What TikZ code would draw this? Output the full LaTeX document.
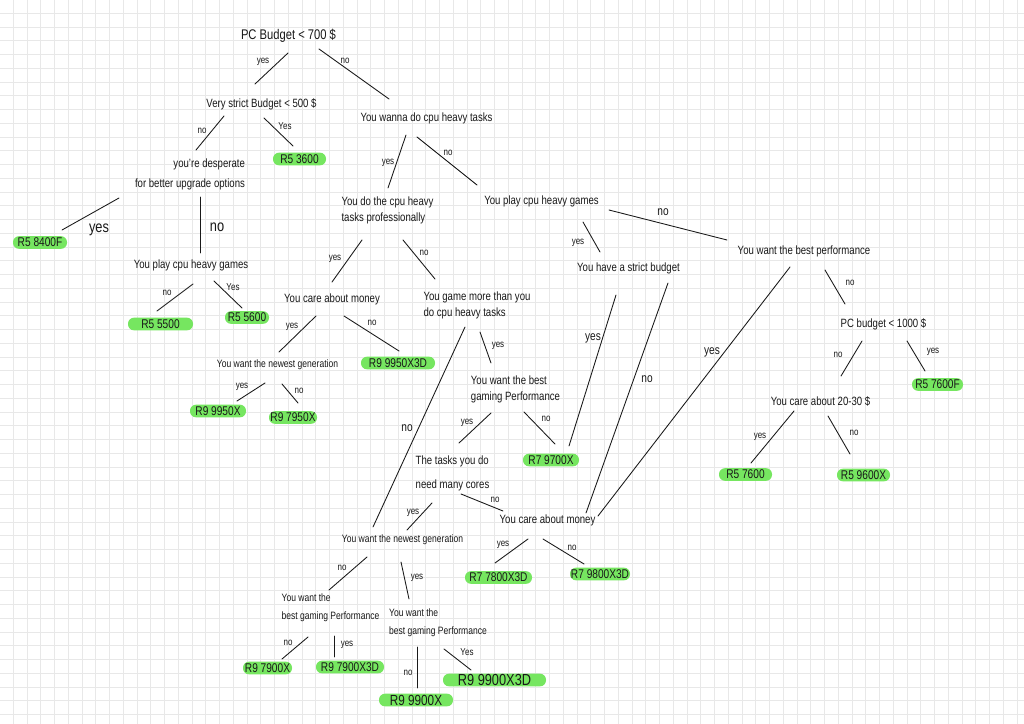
\documentclass[tikz,border=0pt]{standalone}
\usepackage{fontspec}
\setmainfont{Liberation Sans}[FakeStretch=0.8]
\usetikzlibrary{calc}
\definecolor{hl}{RGB}{118,230,96}
\definecolor{gridc}{RGB}{232,232,232}
\definecolor{ink}{RGB}{25,25,25}
\begin{document}
\begin{tikzpicture}[x=0.75pt,y=-0.75pt,
  q/.style={font=\fontsize{9}{12}\selectfont, text=ink, inner sep=0pt},
  qml/.style={q, align=left},
  res/.style={fill=hl, rounded corners=4.5pt, minimum height=9.5pt, minimum width=#1*0.75pt, inner sep=0pt, text=ink, font=\fontsize{9.5}{10}\selectfont},
  lab/.style={font=\fontsize{7.5}{8}\selectfont, text=ink, inner sep=0pt},
  labm/.style={font=\fontsize{9.5}{10}\selectfont, text=ink, inner sep=0pt},
  labb/.style={font=\fontsize{12}{12}\selectfont, text=ink, inner sep=0pt},
  edge/.style={draw=ink, line width=0.65pt, line cap=round}]
\useasboundingbox (0,0) rectangle (1024,724);
\fill[white] (0,0) rectangle (1024,724);
\foreach \i in {0,...,73} {\draw[gridc, line width=0.7pt] (13.4+13.75*\i,0) -- (13.4+13.75*\i,724);}
\foreach \j in {0,...,52} {\draw[gridc, line width=0.7pt] (0,13.4+13.75*\j) -- (1024,13.4+13.75*\j);}

% question nodes
\node[q, font=\fontsize{10.5}{12}\selectfont] (q1) at (288.5,36) {PC Budget < 700 \$};
\node[q] (q2) at (261.5,104) {Very strict Budget < 500 \$};
\node[q] (q3) at (426.5,118) {You wanna do cpu heavy tasks};
\node[q, align=right, font=\fontsize{9}{15}\selectfont] (q4) at (190,174) {you're desperate\\for better upgrade options};
\node[q] (q5) at (191,265) {You play cpu heavy games};
\node[qml] (q6) at (387.5,210) {You do the cpu heavy\\tasks professionally};
\node[q] (q7) at (541.5,201) {You play cpu heavy games};
\node[q] (q8) at (332,299) {You care about money};
\node[qml] (q9) at (477,305) {You game more than you\\do cpu heavy tasks};
\node[q] (q10) at (628.5,268) {You have a strict budget};
\node[q] (q11) at (804,251) {You want the best performance};
\node[q, font=\fontsize{8}{12}\selectfont] (q12) at (277.5,365) {You want the newest generation};
\node[qml] (q13) at (515.5,389) {You want the best\\gaming Performance};
\node[q] (q14) at (883.5,324.5) {PC budget < 1000 \$};
\node[q] (q15) at (820.5,401.5) {You care about 20-30 \$};
\node[qml, font=\fontsize{9}{18}\selectfont] (q16) at (452.5,473) {The tasks you do\\need many cores};
\node[q] (q17) at (547.5,520) {You care about money};
\node[q, font=\fontsize{8}{12}\selectfont] (q18) at (402.5,540) {You want the newest generation};
\node[qml, font=\fontsize{8}{13.5}\selectfont] (q19) at (330.5,608) {You want the\\best gaming Performance};
\node[qml, font=\fontsize{8}{13.5}\selectfont] (q20) at (438,623) {You want the\\best gaming Performance};

% result nodes
\node[res=53] (r1) at (299.5,159) {R5 3600};
\node[res=54] (r2) at (40,242.5) {R5 8400F};
\node[res=65] (r3) at (160.5,324) {R5 5500};
\node[res=44] (r4) at (247,317.5) {R5 5600};
\node[res=74] (r5) at (398,363) {R9 9950X3D};
\node[res=56] (r6) at (218,411) {R9 9950X};
\node[res=48] (r7) at (293,417.5) {R9 7950X};
\node[res=56] (r8) at (551,460) {R7 9700X};
\node[res=67] (r9) at (498.5,577.5) {R7 7800X3D};
\node[res=60] (r10) at (600,574) {R7 9800X3D};
\node[res=49] (r11) at (267.5,668) {R9 7900X};
\node[res=68] (r12) at (350,667) {R9 7900X3D};
\node[res=103, font=\fontsize{12}{12}\selectfont] (r13) at (494.5,680) {R9 9900X3D};
\node[res=74, font=\fontsize{11}{11}\selectfont] (r14) at (416,700) {R9 9900X};
\node[res=51] (r15) at (937.5,384.5) {R5 7600F};
\node[res=53] (r16) at (745.5,474.5) {R5 7600};
\node[res=53] (r17) at (863.5,475) {R5 9600X};

% connectors
\draw[edge] ($(q1)+(-0.5,17)$) -- ($(q2)+(-6.5,-20)$);
\draw[edge] ($(q1)+(30.5,13)$) -- ($(q3)+(-37.5,-19)$);
\draw[edge] ($(q2)+(-37.5,12)$) -- ($(q4)+(6,-24)$);
\draw[edge] ($(q2)+(2.5,14)$) -- ($(r1)+(-6.5,-13)$);
\draw[edge] ($(q4)+(-71,24)$) -- ($(r2)+(22,-12.5)$);
\draw[edge] ($(q4)+(10,23)$) -- ($(q5)+(9,-12)$);
\draw[edge] ($(q5)+(2,19)$) -- ($(r3)+(-3.5,-13)$);
\draw[edge] ($(q5)+(23,16)$) -- ($(r4)+(-5,-9.5)$);
\draw[edge] ($(q3)+(-20.5,17)$) -- ($(q6)+(0.5,-22)$);
\draw[edge] ($(q3)+(-9.5,19)$) -- ($(q7)+(-64.5,-16)$);
\draw[edge] ($(q6)+(-25.5,30)$) -- ($(q8)+(0,-17)$);
\draw[edge] ($(q6)+(15.5,30)$) -- ($(q9)+(-42,-26)$);
\draw[edge] ($(q8)+(-16,17)$) -- ($(q12)+(1.5,-13)$);
\draw[edge] ($(q8)+(12,17)$) -- ($(r5)+(1,-12)$);
\draw[edge] ($(q12)+(-12.5,18)$) -- ($(r6)+(19,-10)$);
\draw[edge] ($(q12)+(4.5,19)$) -- ($(r7)+(5,-14.5)$);
\draw[edge] ($(q7)+(41.5,21)$) -- ($(q10)+(-28.5,-16)$);
\draw[edge] ($(q7)+(67.5,9)$) -- ($(q11)+(-77,-11)$);
\draw[edge] ($(q10)+(-12.5,27)$) -- ($(r8)+(18,-14)$);
\draw[edge] ($(q10)+(39.5,15)$) -- ($(q17)+(38.5,-7)$);
\draw[edge] ($(q11)+(-14,16)$) -- ($(q17)+(50.5,-4)$);
\draw[edge] ($(q11)+(21,19)$) -- ($(q14)+(-38.5,-20.5)$);
\draw[edge] ($(q14)+(-21.5,16.5)$) -- ($(q15)+(20.5,-25.5)$);
\draw[edge] ($(q14)+(23.5,16.5)$) -- ($(r15)+(-12.5,-13.5)$);
\draw[edge] ($(q15)+(-26.5,9.5)$) -- ($(r16)+(5.5,-11.5)$);
\draw[edge] ($(q15)+(7.5,14.5)$) -- ($(r17)+(-13.5,-21)$);
\draw[edge] ($(q9)+(3,27)$) -- ($(q13)+(-24.5,-26)$);
\draw[edge] ($(q9)+(-12,22)$) -- ($(q18)+(-29.5,-13)$);
\draw[edge] ($(q13)+(-24.5,24)$) -- ($(q16)+(6.5,-30)$);
\draw[edge] ($(q13)+(8.5,23)$) -- ($(r8)+(4,-16)$);
\draw[edge] ($(q16)+(-20.5,30)$) -- ($(q18)+(4.5,-10)$);
\draw[edge] ($(q16)+(8.5,21)$) -- ($(q17)+(-44.5,-9)$);
\draw[edge] ($(q17)+(-19.5,19)$) -- ($(r9)+(-3.5,-14.5)$);
\draw[edge] ($(q17)+(-4.5,19)$) -- ($(r10)+(-16,-10)$);
\draw[edge] ($(q18)+(-35.5,17)$) -- ($(q19)+(-1.5,-18)$);
\draw[edge] ($(q18)+(-1.5,22)$) -- ($(q20)+(-29,-24)$);
\draw[edge] ($(q19)+(-22.5,29)$) -- ($(r11)+(14.5,-9)$);
\draw[edge] ($(q19)+(3.5,28)$) -- ($(r12)+(-16,-10)$);
\draw[edge] ($(q20)+(-21,24)$) -- ($(r14)+(1,-12)$);
\draw[edge] ($(q20)+(6,26)$) -- ($(r13)+(-23.5,-10)$);

% edge labels
\node[lab] (l1) at (263,62) {yes};
\node[lab] (l2) at (345,61) {no};
\node[lab] (l3) at (202,131) {no};
\node[lab] (l4) at (285,126) {Yes};
\node[labb] (l5) at (99,230) {yes};
\node[labb] (l6) at (217,227) {no};
\node[lab] (l7) at (167,293) {no};
\node[lab] (l8) at (233,287) {Yes};
\node[lab] (l9) at (388,163) {yes};
\node[lab] (l10) at (448,153) {no};
\node[lab] (l11) at (335,259) {yes};
\node[lab] (l12) at (424,253) {no};
\node[lab] (l13) at (292,327) {yes};
\node[lab] (l14) at (372,323) {no};
\node[lab] (l15) at (242,387) {yes};
\node[lab] (l16) at (299,391) {no};
\node[lab] (l17) at (578,243) {yes};
\node[labm] (l18) at (663,212) {no};
\node[labm] (l19) at (593,338) {yes};
\node[labm] (l20) at (647,379) {no};
\node[labm] (l21) at (712,352) {yes};
\node[lab] (l22) at (850,283) {no};
\node[lab] (l23) at (838,355) {no};
\node[lab] (l24) at (933,352) {yes};
\node[lab] (l25) at (760,437) {yes};
\node[lab] (l26) at (854,433) {no};
\node[lab] (l27) at (498,346) {yes};
\node[labm] (l28) at (407,428) {no};
\node[lab] (l29) at (467,423) {yes};
\node[lab] (l30) at (546,419) {no};
\node[lab] (l31) at (413,513) {yes};
\node[lab] (l32) at (495,500) {no};
\node[lab] (l33) at (503,545) {yes};
\node[lab] (l34) at (572,548) {no};
\node[lab] (l35) at (342,568) {no};
\node[lab] (l36) at (417,578) {yes};
\node[lab] (l37) at (288,643) {no};
\node[lab] (l38) at (347,645) {yes};
\node[lab] (l39) at (408,673) {no};
\node[lab] (l40) at (467,652) {Yes};
\end{tikzpicture}
\end{document}
